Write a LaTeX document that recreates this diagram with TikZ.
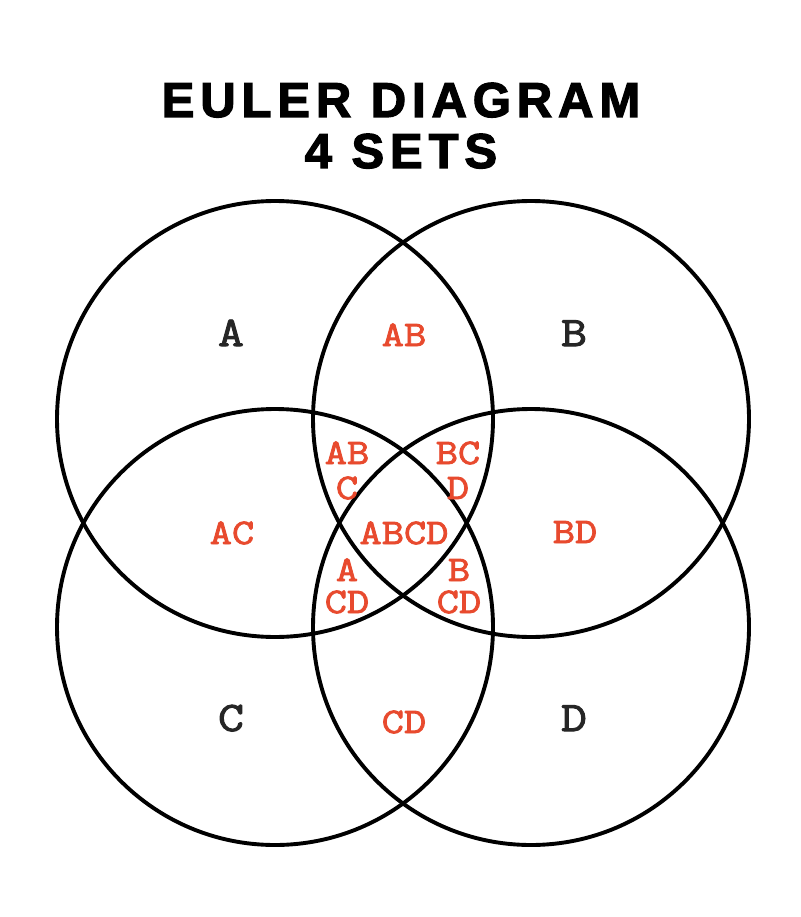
\documentclass[tikz,border=0pt]{standalone}
\usepackage{fontspec}
\setmainfont{Liberation Sans}
\newfontfamily\titlefont[LetterSpace=12,FakeBold=2.5]{Liberation Sans Bold}
\newfontfamily\labfont[FakeBold=2.4,FakeStretch=1.2]{Latin Modern Mono}
\definecolor{lred}{RGB}{232,74,46}
\begin{document}
\begin{tikzpicture}[x=1pt,y=-1pt,
  setcircle/.style={draw=black,line width=3.9pt},
  titletext/.style={anchor=base,inner sep=0pt,font=\titlefont\fontsize{49}{49}\selectfont},
  setlab/.style={anchor=base,inner sep=0pt,text height=26pt,text depth=0pt,text=black!85,font=\labfont\fontsize{42}{42}\selectfont},
  reglab/.style={anchor=base,inner sep=0pt,text height=22pt,text depth=0pt,text=lred,font=\labfont\fontsize{36}{36}\selectfont}]
\useasboundingbox (0,0) rectangle (800,917);
\fill[white] (0,0) rectangle (800,917);
% title
\node[titletext] (t1) at (401,117) {EULER DIAGRAM};
\node[titletext] (t2) at (401,168) {4 SETS};
% circles
\node[setcircle,circle,minimum size=436pt,inner sep=0pt] (cA) at (275,419) {};
\node[setcircle,circle,minimum size=436pt,inner sep=0pt] (cB) at (531,419) {};
\node[setcircle,circle,minimum size=436pt,inner sep=0pt] (cC) at (275,627) {};
\node[setcircle,circle,minimum size=436pt,inner sep=0pt] (cD) at (531,627) {};
% set labels
\node[setlab] (lA) at (231,346) {A};
\node[setlab] (lB) at (574,346) {B};
\node[setlab] (lC) at (231,731) {C};
\node[setlab] (lD) at (574,731) {D};
% region labels
\node[reglab] (lAB) at (404,346) {AB};
\node[reglab] (lAC) at (232,544) {AC};
\node[reglab] (lBD) at (575,543) {BD};
\node[reglab] (lCD) at (404,733) {CD};
\node[reglab] (lABCD) at (404,544) {ABCD};
\node[reglab] (lABC1) at (347,464) {AB};
\node[reglab] (lABC2) at (347,499) {C};
\node[reglab] (lBCD1) at (458,464) {BC};
\node[reglab] (lBCD2) at (458,499) {D};
\node[reglab] (lACD1) at (347,581) {A};
\node[reglab] (lACD2) at (347,613) {CD};
\node[reglab] (lBCD3) at (459,581) {B};
\node[reglab] (lBCD4) at (459,613) {CD};
\end{tikzpicture}
\end{document}
